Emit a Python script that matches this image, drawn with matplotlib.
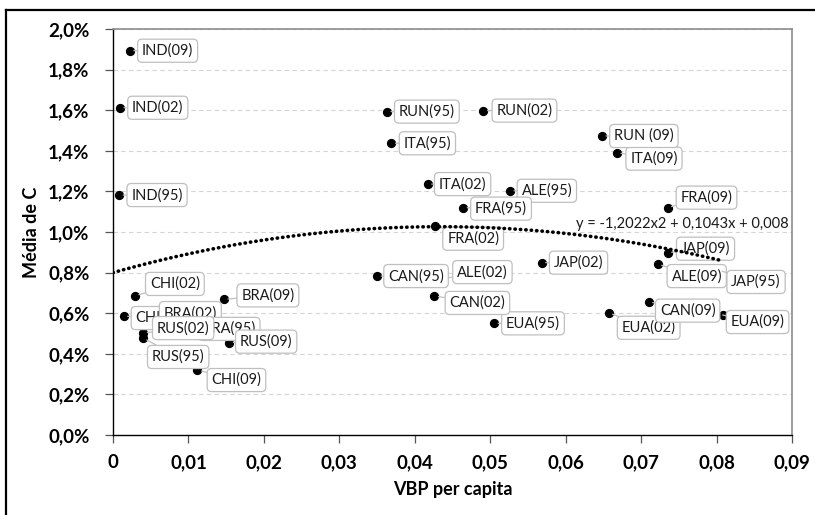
import matplotlib

matplotlib.use("Agg")

import matplotlib.pyplot as plt
import numpy as np
from matplotlib.lines import Line2D
from matplotlib.ticker import FixedLocator, FuncFormatter

# data (x = VBP per capita, y = Média de C in %)
labels = [
    "ALE(95)", "ALE(02)", "ALE(09)",
    "CHI(02)", "CHI(95)", "CHI(09)",
    "BRA(09)", "BRA(02)", "BRA(95)",
    "RUS(02)", "RUS(95)", "RUS(09)",
    "EUA(95)", "EUA(02)", "EUA(09)",
    "CAN(95)", "CAN(02)", "CAN(09)",
    "FRA(95)", "FRA(02)", "FRA(09)",
    "ITA(95)", "ITA(02)", "ITA(09)",
    "IND(09)", "IND(02)", "IND(95)",
    "JAP(95)", "JAP(02)", "JAP(09)",
    "RUN(95)", "RUN(02)", "RUN (09)",
]
vbp = [
    0.0526, 0.0434, 0.0722,
    0.0029, 0.0014, 0.0112,
    0.0147, 0.0076, 0.0122,
    0.0040, 0.0040, 0.0154,
    0.0505, 0.0657, 0.0808,
    0.0350, 0.0426, 0.0710,
    0.0464, 0.0427, 0.0735,
    0.0369, 0.0417, 0.0668,
    0.0022, 0.0009, 0.0008,
    0.0802, 0.0568, 0.0735,
    0.0363, 0.0491, 0.0648,
]
media_c = [
    1.203, 0.768, 0.842,
    0.685, 0.586, 0.320,
    0.668, 0.576, 0.498,
    0.502, 0.478, 0.455,
    0.550, 0.602, 0.591,
    0.783, 0.685, 0.657,
    1.120, 1.031, 1.120,
    1.437, 1.236, 1.391,
    1.893, 1.612, 1.182,
    0.813, 0.849, 0.898,
    1.593, 1.598, 1.473,
]
# polynomial trendline as printed on the chart
trend_coefs = [-1.2022, 0.1043, 0.008]
trend_text = "y = -1,2022x2 + 0,1043x + 0,008"

x_ticks = [0, 0.01, 0.02, 0.03, 0.04, 0.05, 0.06, 0.07, 0.08, 0.09]
y_ticks = [0.0, 0.2, 0.4, 0.6, 0.8, 1.0, 1.2, 1.4, 1.6, 1.8, 2.0]

# callout offsets in pixels (right, down) from each point
label_offsets = [
    (37, 0), (42, -7), (39, 12),
    (40, -12), (37, 2), (39, 10),
    (44, -4), (20, -5), (24, -5),
    (40, -5), (35, 19), (37, -1),
    (39, 0), (40, 15), (35, 7),
    (39, 0), (43, 7), (39, 9),
    (38, 1), (38, 13), (39, -10),
    (36, 0), (35, 0), (37, 6),
    (38, 0), (38, 0), (38, 0),
    (38, 12), (37, 0), (38, -4),
    (40, 0), (41, 0), (42, 0),
]

plt.rcParams["font.family"] = ["Lato", "DejaVu Sans"]

fig = plt.figure(figsize=(8.15, 5.15), dpi=100)
ax = fig.add_axes([113 / 815, 1 - 435 / 515, 679 / 815, 406 / 515])

x = np.array(vbp)
y = np.array(media_c)

xs = np.linspace(0, x.max(), 200)
ax.plot(xs, np.polyval(trend_coefs, xs) * 100, color="black", lw=2.6,
        linestyle=(0, (0.1, 1.4)), dash_capstyle="round", zorder=6)

ax.scatter(x, y, s=32, color="black", zorder=3)

for i, (lab, xi, yi) in enumerate(zip(labels, x, y)):
    dx, dy = label_offsets[i]
    ax.annotate(
        lab, xy=(xi, yi), xytext=(dx, -dy), textcoords="offset pixels",
        ha="center", va="center", fontsize=10.5, color="#1a1a1a",
        bbox=dict(boxstyle="round,pad=0.3,rounding_size=0.3", fc="white",
                  ec="#bfbfbf", lw=0.9),
        arrowprops=dict(arrowstyle="-", color="#bfbfbf", lw=0.9,
                        shrinkA=0, shrinkB=3),
        zorder=4 + i * 0.01,
    )

ax.text(0.838, 0.52, trend_text, transform=ax.transAxes, ha="center",
        va="center", fontsize=10.5, color="#1a1a1a", zorder=7)

ax.set_xlim(0, 0.09)
ax.set_ylim(0, 2.0)
ax.xaxis.set_major_locator(FixedLocator(x_ticks))
ax.yaxis.set_major_locator(FixedLocator(y_ticks))
ax.xaxis.set_major_formatter(FuncFormatter(
    lambda v, p: "0" if abs(v) < 1e-12 else f"{v:.2f}".replace(".", ",")))
ax.yaxis.set_major_formatter(FuncFormatter(
    lambda v, p: f"{v:.1f}%".replace(".", ",")))

for t in y_ticks[1:]:
    ax.axhline(t, color="#d4d4d4", lw=0.8, linestyle=(0, (4, 3)), zorder=1)

ax.tick_params(axis="both", direction="out", length=6, width=0.9,
               color="#555555", labelsize=13.5)
ax.tick_params(axis="y", pad=11)
ax.tick_params(axis="x", pad=8)
for lab in ax.get_xticklabels() + ax.get_yticklabels():
    lab.set_fontweight("bold")

for side in ("top", "right"):
    ax.spines[side].set_color("#8c8c8c")
    ax.spines[side].set_linewidth(1.2)
for side in ("left", "bottom"):
    ax.spines[side].set_color("black")
    ax.spines[side].set_linewidth(1.0)

ax.set_xlabel("VBP per capita", fontsize=13, fontweight="bold", labelpad=7)
ax.set_ylabel("Média de C", fontsize=13, fontweight="bold", labelpad=6)

# outer chart border (only left and top edges fall inside the image)
top = 1 - 10 / 515
left = 6 / 815
fig.add_artist(Line2D([left, left], [0, top], color="black", lw=1.6,
                      transform=fig.transFigure))
fig.add_artist(Line2D([left, 1], [top, top], color="black", lw=1.6,
                      transform=fig.transFigure))

fig.savefig("out.png", dpi=100)
